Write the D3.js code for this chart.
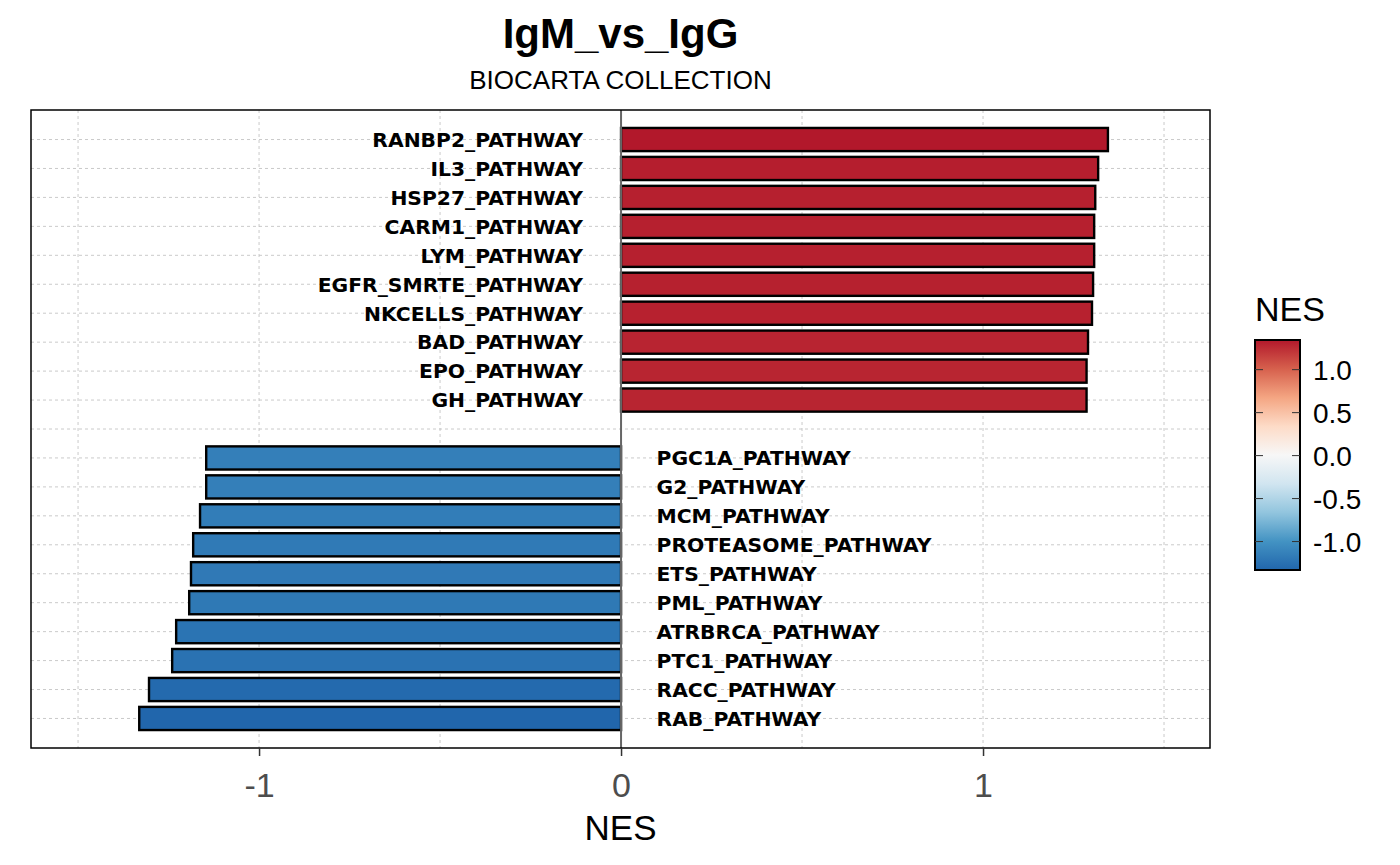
<!DOCTYPE html>
<html>
<head>
<meta charset="utf-8">
<script src="https://cdn.jsdelivr.net/npm/d3@7"></script>
<style>
  body { margin: 0; background: #fff; }
  svg text { font-family: "Liberation Sans", Arial, sans-serif; }
</style>
</head>
<body>
<div id="chart"></div>
<script>
// pathways, top to bottom ("" is the spacer row between up and down sets)
const pathways = [
  "RANBP2_PATHWAY", "IL3_PATHWAY", "HSP27_PATHWAY", "CARM1_PATHWAY", "LYM_PATHWAY",
  "EGFR_SMRTE_PATHWAY", "NKCELLS_PATHWAY", "BAD_PATHWAY", "EPO_PATHWAY", "GH_PATHWAY",
  "",
  "PGC1A_PATHWAY", "G2_PATHWAY", "MCM_PATHWAY", "PROTEASOME_PATHWAY", "ETS_PATHWAY",
  "PML_PATHWAY", "ATRBRCA_PATHWAY", "PTC1_PATHWAY", "RACC_PATHWAY", "RAB_PATHWAY"
]
const nes = [
  1.345, 1.318, 1.310, 1.307, 1.307, 1.304, 1.301, 1.290, 1.286, 1.286,
  null,
  -1.146, -1.146, -1.163, -1.182, -1.188, -1.193, -1.229, -1.240, -1.304, -1.331
]
const xTicks = [-1, 0, 1]
const xMinor = [-1.5, -0.5, 0.5, 1.5]
const legendTicks = [1.0, 0.5, 0.0, -0.5, -1.0]
const palette = ["#2166AC", "#4393C3", "#92C5DE", "#D1E5F0", "#F7F7F7",
                 "#FDDBC7", "#F4A582", "#D6604D", "#B2182B"]

const width = 1400, height = 865
const margin = ({top: 110, right: 190, bottom: 117, left: 31})

const svg = d3.select("#chart").append("svg")
  .attr("width", width).attr("height", height)

const rows = pathways.map((p, i) => ({ name: p, value: nes[i] }))
const bars = rows.filter(d => d.value !== null)

// x scale
const x = d3.scaleLinear()
  .domain([-1.63, 1.627])
  .range([margin.left, width - margin.right])

// y scale (discrete rows)
const y = d3.scaleBand()
  .domain(d3.range(pathways.length))
  .range([margin.top, height - margin.bottom])
  .paddingInner(0.2)
  .paddingOuter(0.62)
const yc = i => y(i) + y.bandwidth() / 2

// colour scale
const [vmin, vmax] = d3.extent(bars, d => d.value)
const color = d3.scaleLinear()
  .domain(palette.map((c, i) => vmin + (vmax - vmin) * i / (palette.length - 1)))
  .range(palette)

const panel = svg.append("g")
const x0 = margin.left, x1 = width - margin.right
const y0 = margin.top, y1 = height - margin.bottom

// Grid lines
panel.append("g")
    .attr("stroke", "#bdbdbd")
    .attr("stroke-width", 0.8)
    .attr("stroke-dasharray", "3,3")
  .selectAll("line.v")
  .data(xTicks.concat(xMinor))
  .enter().append("line")
    .attr("x1", d => x(d)).attr("x2", d => x(d))
    .attr("y1", y0).attr("y2", y1)

panel.append("g")
    .attr("stroke", "#bdbdbd")
    .attr("stroke-width", 0.8)
    .attr("stroke-dasharray", "3,3")
  .selectAll("line")
  .data(rows.map((d, i) => i))
  .enter().append("line")
    .attr("x1", x0).attr("x2", x1)
    .attr("y1", d => yc(d)).attr("y2", d => yc(d))

// Bars
panel.append("g")
    .attr("stroke", "#000")
    .attr("stroke-width", 2.4)
  .selectAll("rect")
  .data(bars)
  .enter().append("rect")
    .attr("x", d => x(Math.min(0, d.value)))
    .attr("width", d => Math.abs(x(d.value) - x(0)))
    .attr("y", d => y(pathways.indexOf(d.name)))
    .attr("height", y.bandwidth())
    .attr("fill", d => color(d.value))

// zero line
panel.append("line")
  .attr("x1", x(0)).attr("x2", x(0))
  .attr("y1", y0).attr("y2", y1)
  .attr("stroke", "#666").attr("stroke-width", 2)

// Pathway labels next to the zero line
panel.append("g")
  .selectAll("text")
  .data(bars)
  .enter().append("text")
    .attr("x", d => d.value > 0 ? x(-0.105) : x(0.098))
    .attr("y", d => yc(pathways.indexOf(d.name)))
    .attr("dy", "0.36em")
    .attr("text-anchor", d => d.value > 0 ? "end" : "start")
    .style("font-family", "'DejaVu Sans', sans-serif")
    .style("font-weight", "bold")
    .style("font-size", "20.3px")
    .text(d => d.name)

// panel border
panel.append("rect")
  .attr("x", x0).attr("y", y0)
  .attr("width", x1 - x0).attr("height", y1 - y0)
  .attr("fill", "none").attr("stroke", "#000").attr("stroke-width", 1.5)

// X axis
const xAxis = g => g
  .attr("transform", `translate(0,${y1})`)
  .call(d3.axisBottom(x).tickValues(xTicks).tickFormat(d => String(d)).tickSize(8).tickPadding(17))
  .call(g => g.select(".domain").remove())
  .call(g => g.selectAll(".tick line").attr("stroke", "#333").attr("stroke-width", 1.5))
  .call(g => g.selectAll(".tick text")
    .attr("fill", "#4d4d4d")
    .style("font-family", "'Liberation Sans', Arial, sans-serif")
    .style("font-size", "34px"))
svg.append("g").call(xAxis)

svg.append("text")
  .attr("x", (x0 + x1) / 2).attr("y", 840)
  .attr("text-anchor", "middle")
  .style("font-size", "35px")
  .text("NES")

// Title
svg.append("text")
  .attr("x", (x0 + x1) / 2).attr("y", 48)
  .attr("text-anchor", "middle")
  .style("font-size", "42px").style("font-weight", "bold")
  .text("IgM_vs_IgG")
svg.append("text")
  .attr("x", (x0 + x1) / 2).attr("y", 89)
  .attr("text-anchor", "middle")
  .style("font-size", "26px")
  .text("BIOCARTA COLLECTION")

// Legend colourbar
const lg = svg.append("g")
const lx = 1255, lw = 45, ly0 = 340, ly1 = 570
const ly = d3.scaleLinear().domain([vmin, vmax]).range([ly1, ly0])

const defs = svg.append("defs")
const grad = defs.append("linearGradient")
  .attr("id", "nesGrad")
  .attr("x1", 0).attr("x2", 0).attr("y1", 1).attr("y2", 0)
grad.selectAll("stop")
  .data(palette)
  .enter().append("stop")
    .attr("offset", (d, i) => i / (palette.length - 1))
    .attr("stop-color", d => d)

lg.append("rect")
  .attr("x", lx).attr("y", ly0)
  .attr("width", lw).attr("height", ly1 - ly0)
  .attr("fill", "url(#nesGrad)")
  .attr("stroke", "#000").attr("stroke-width", 2)

lg.selectAll("line.l")
  .data(legendTicks)
  .enter().append("line")
    .attr("x1", lx).attr("x2", lx + 8)
    .attr("y1", d => ly(d)).attr("y2", d => ly(d))
    .attr("stroke", "#333").attr("stroke-width", 1)
lg.selectAll("line.r")
  .data(legendTicks)
  .enter().append("line")
    .attr("x1", lx + lw - 8).attr("x2", lx + lw)
    .attr("y1", d => ly(d)).attr("y2", d => ly(d))
    .attr("stroke", "#333").attr("stroke-width", 1)

lg.selectAll("text.tl")
  .data(legendTicks)
  .enter().append("text")
    .attr("x", lx + lw + 13)
    .attr("y", d => ly(d))
    .attr("dy", "0.36em")
    .style("font-size", "28px")
    .text(d => d3.format(".1f")(d).replace("−", "-"))

lg.append("text")
  .attr("x", lx).attr("y", 321)
  .style("font-size", "34px")
  .text("NES")
</script>
</body>
</html>
